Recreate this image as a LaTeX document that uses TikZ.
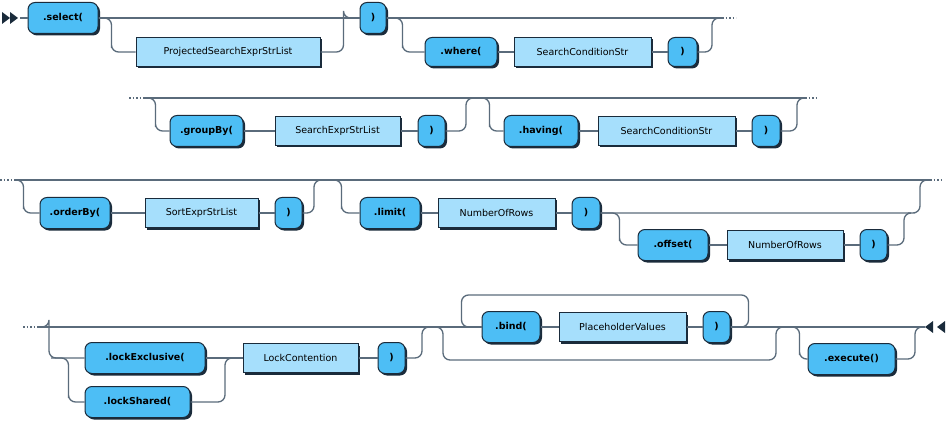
\documentclass[tikz,border=0pt]{standalone}
\usepackage{fontspec}
\setmainfont{DejaVu Sans}
\usetikzlibrary{shadows,calc}
\definecolor{lc}{HTML}{5A6B7B}
\definecolor{bd}{HTML}{1A2B3B}
\definecolor{tf}{HTML}{4DBEF5}
\definecolor{nf}{HTML}{A6DFFC}
\tikzset{
 box/.style={draw=bd,line width=1pt,inner sep=0pt,font=\fontsize{9.5}{11}\selectfont,
   drop shadow={shadow xshift=2pt,shadow yshift=-2pt,fill=bd,opacity=1}},
 term/.style={box,fill=tf,rounded corners=7pt,font=\fontsize{9.5}{11}\selectfont\bfseries},
 nt/.style={box,fill=nf},
 rl/.style={draw=lc,line width=1.3pt,rounded corners=7pt},
 dots/.style={draw=lc,line width=1.3pt,dash pattern=on 1.5pt off 2pt},
 mk/.style={fill=bd,draw=none}
}
\newcommand{\Bx}[7]{\node[#1,minimum width={#5-#3},minimum height=#6] (#2) at ({(#3+#5)/2},#4) {#7};}
\begin{document}
\begin{tikzpicture}[x=1pt,y=-1pt]
\useasboundingbox (0,0) rectangle (950,422);
% ---------- row 1 ----------
\coordinate (s0) at (20,18);
\fill[mk] (2,12)--(10,18)--(2,24)--cycle (10,12)--(18,18)--(10,24)--cycle;
\Bx{term}{sel}{28}{18}{98}{31}{.select(}
\Bx{nt}{psl}{136}{52}{320}{29}{ProjectedSearchExprStrList}
\Bx{term}{rp1}{360}{18}{386}{31}{)}
\Bx{term}{wh}{425}{52}{497}{29}{.where(}
\Bx{nt}{sc1}{514}{52}{651}{29}{SearchConditionStr}
\Bx{term}{rp2}{668}{52}{697}{29}{)}
\coordinate (e1) at (722,18);
\draw[rl] (s0) -- (sel.west);
\draw[rl] (sel.east) -- (rp1.west);
\draw[rl] (sel.east) -| ($(psl.west)+(-24,0)$) |- (psl.west);
\draw[rl] (psl.east) -| ($(rp1.west)+(-16,0)$) |- (rp1.west);
\draw[rl] (rp1.east) -- (e1);
\draw[rl] (rp1.east) -| ($(wh.west)+(-22,0)$) |- (wh.west);
\draw[rl] (wh.east) -- (sc1.west) (sc1.east) -- (rp2.west);
\draw[rl] (rp2.east) -| ($(e1)+(-10,0)$) -- (e1);
\draw[dots] (e1) -- ++(14,0);
% ---------- row 2 ----------
\coordinate (b2) at (143,98);
\coordinate (m2) at (480,98);
\coordinate (e2) at (805,98);
\Bx{term}{gb}{170}{131}{243}{31}{.groupBy(}
\Bx{nt}{sel2}{275}{131}{400}{29}{SearchExprStrList}
\Bx{term}{rp3}{418}{131}{445}{31}{)}
\Bx{term}{hv}{504}{131}{578}{31}{.having(}
\Bx{nt}{sc2}{598}{131}{735}{29}{SearchConditionStr}
\Bx{term}{rp4}{752}{131}{780}{31}{)}
\draw[dots] ($(b2)+(-14,0)$) -- (b2);
\draw[rl] (b2) -- (e2);
\draw[rl] (b2) -| ($(gb.west)+(-14,0)$) |- (gb.west);
\draw[rl] (gb.east) -- (sel2.west) (sel2.east) -- (rp3.west);
\draw[rl] (rp3.east) -| ($(m2)+(-14,0)$) -- (m2);
\draw[rl] (m2) -| ($(hv.west)+(-14,0)$) |- (hv.west);
\draw[rl] (hv.east) -- (sc2.west) (sc2.east) -- (rp4.west);
\draw[rl] (rp4.east) -| ($(e2)+(-8,0)$) -- (e2);
\draw[dots] (e2) -- ++(14,0);
% ---------- row 3 ----------
\coordinate (b3) at (14,180);
\coordinate (m3) at (322,180);
\coordinate (e3) at (930,180);
\Bx{term}{ob}{40}{213}{110}{31}{.orderBy(}
\Bx{nt}{sel3}{145}{213}{258}{29}{SortExprStrList}
\Bx{term}{rp5}{275}{213}{302}{31}{)}
\Bx{term}{lim}{360}{213}{420}{31}{.limit(}
\Bx{nt}{nor1}{438}{213}{555}{29}{NumberOfRows}
\Bx{term}{rp6}{572}{213}{600}{31}{)}
\Bx{term}{off}{638}{245}{708}{31}{.offset(}
\Bx{nt}{nor2}{727}{245}{843}{29}{NumberOfRows}
\Bx{term}{rp7}{860}{245}{887}{31}{)}
\coordinate (j3) at (908,213);
\draw[dots] (0,180) -- (b3);
\draw[rl] (b3) -- (e3);
\draw[rl] (b3) -| ($(ob.west)+(-16,0)$) |- (ob.west);
\draw[rl] (ob.east) -- (sel3.west) (sel3.east) -- (rp5.west);
\draw[rl] (rp5.east) -| ($(m3)+(-8,0)$) -- (m3);
\draw[rl] (m3) -| ($(lim.west)+(-18,0)$) |- (lim.west);
\draw[rl] (lim.east) -- (nor1.west) (nor1.east) -- (rp6.west);
\draw[rl] (rp6.east) -- (j3) -| ($(e3)+(-10,0)$) -- (e3);
\draw[rl] (rp6.east) -| ($(off.west)+(-18,0)$) |- (off.west);
\draw[rl] (off.east) -- (nor2.west) (nor2.east) -- (rp7.west);
\draw[rl] (rp7.east) -| ($(j3)+(-4,0)$) -- (j3);
\draw[dots] (e3) -- ++(14,0);
% ---------- row 4 ----------
\coordinate (b4) at (37,327);
\coordinate (m4) at (430,327);
\coordinate (m5) at (792,327);
\coordinate (e4) at (925,327);
\Bx{term}{lex}{85}{358}{205}{31}{.lockExclusive(}
\Bx{term}{lsh}{85}{402}{190}{31}{.lockShared(}
\Bx{nt}{lc1}{243}{358}{358}{29}{LockContention}
\Bx{term}{rp8}{378}{358}{405}{31}{)}
\Bx{term}{bnd}{482}{327}{540}{31}{.bind(}
\Bx{nt}{phv}{559}{327}{686}{29}{PlaceholderValues}
\Bx{term}{rp9}{703}{327}{730}{31}{)}
\Bx{term}{ex}{808}{359}{895}{31}{.execute()}
\coordinate (j4) at (225,358);
\draw[dots] ($(b4)+(-14,0)$) -- (b4);
\draw[rl] (b4) -- (m4);
\draw[rl] (b4) -| ($(b4)+(12,0)$) |- (lex.west);
\draw[rl] ($(b4)+(14,31)$) -| ($(lsh.west)+(-16,0)$) |- (lsh.west);
\draw[rl] (lex.east) -- (lc1.west);
\draw[rl] (lsh.east) -| (j4) -- (lc1.west);
\draw[rl] (lc1.east) -- (rp8.west);
\draw[rl] (rp8.east) -| ($(m4)+(-8,0)$) -- (m4);
\draw[rl] (m4) -- (bnd.west);
\draw[rl] (bnd.east) -- (phv.west) (phv.east) -- (rp9.west);
\draw[rl] (rp9.east) -- (m5);
\draw[rl] (rp9.east) -| ($(rp9.east)+(18,-32)$) -| ($(bnd.west)+(-20,0)$) -- (bnd.west);
\draw[rl] (m4) -| ($(m4)+(13,33)$) -| ($(m5)+(-16,0)$) -- (m5);
\draw[rl] (m5) -- (e4);
\draw[rl] (m5) -| ($(ex.west)+(-8,0)$) |- (ex.west);
\draw[rl] (ex.east) -| ($(e4)+(-10,0)$) -- (e4);
\fill[mk] (e4)++(0,0) -- ++(8,-6) -- ++(0,12) -- cycle;
\fill[mk] (945,321) -- (937,327) -- (945,333) -- cycle;
\end{tikzpicture}
\end{document}
